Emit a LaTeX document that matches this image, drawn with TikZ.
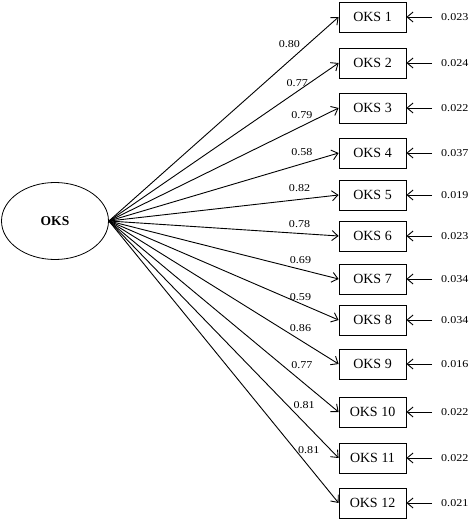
\documentclass[tikz,border=0pt]{standalone}
\usepackage{fontspec}
\setmainfont{Liberation Serif}
\newfontfamily\numfont{Liberation Serif}[FakeStretch=1.15]
\usetikzlibrary{shapes.geometric,arrows.meta,positioning}
\tikzset{
  factor/.style={draw, ellipse, line width=0.8pt, minimum width=107pt, minimum height=77pt,
                 inner sep=0pt, font=\fontsize{13.5}{15}\selectfont\bfseries},
  indicator/.style={draw, line width=0.8pt, minimum width=67pt, minimum height=30pt,
                    inner sep=0pt, font=\fontsize{14}{16}\selectfont},
  loading/.style={inner sep=0pt, font=\numfont\fontsize{10.5}{12}\selectfont},
  residual/.style={anchor=west, inner xsep=9pt, inner ysep=0pt, font=\numfont\fontsize{10.5}{12}\selectfont},
  arrowline/.style={-{Straight Barb[length=6pt,width=10pt]}, line width=0.9pt}
}

\begin{document}
\begin{tikzpicture}[x=1pt, y=-1pt]
        \useasboundingbox (0,0) rectangle (472,521);
        % latent factor
        \node[factor] (oks) at (55,221) {OKS};
        % indicators with loadings and residuals
        \foreach \i/\y/\load/\err/\t/\d in {
            1/17/0.80/0.023/0.786/12.5, 2/63/0.77/0.024/0.82/4.5,
            3/108/0.79/0.022/0.84/6.5, 4/153/0.58/0.037/0.84/7.5,
            5/195/0.82/0.019/0.83/7.5, 6/236/0.78/0.023/0.83/5.5,
            7/279/0.69/0.034/0.834/5.5, 8/320/0.59/0.034/0.834/2.5,
            9/364/0.86/0.016/0.834/8.5, 10/412/0.77/0.022/0.84/12.5,
            11/458/0.81/0.022/0.85/13.5, 12/503/0.81/0.021/0.87/12.5} {
            \node[indicator] (item\i) at (372.5,\y) {OKS \i};
            \node[residual] (err\i) at (432,\y) {\err};
            \draw[arrowline] (oks.east) -- (item\i.west)
                node[loading, pos=\t, above=\d pt] (load\i) {\load};
            \draw[arrowline] (err\i.west) -- (item\i.east);
        }
    \end{tikzpicture}
\end{document}
